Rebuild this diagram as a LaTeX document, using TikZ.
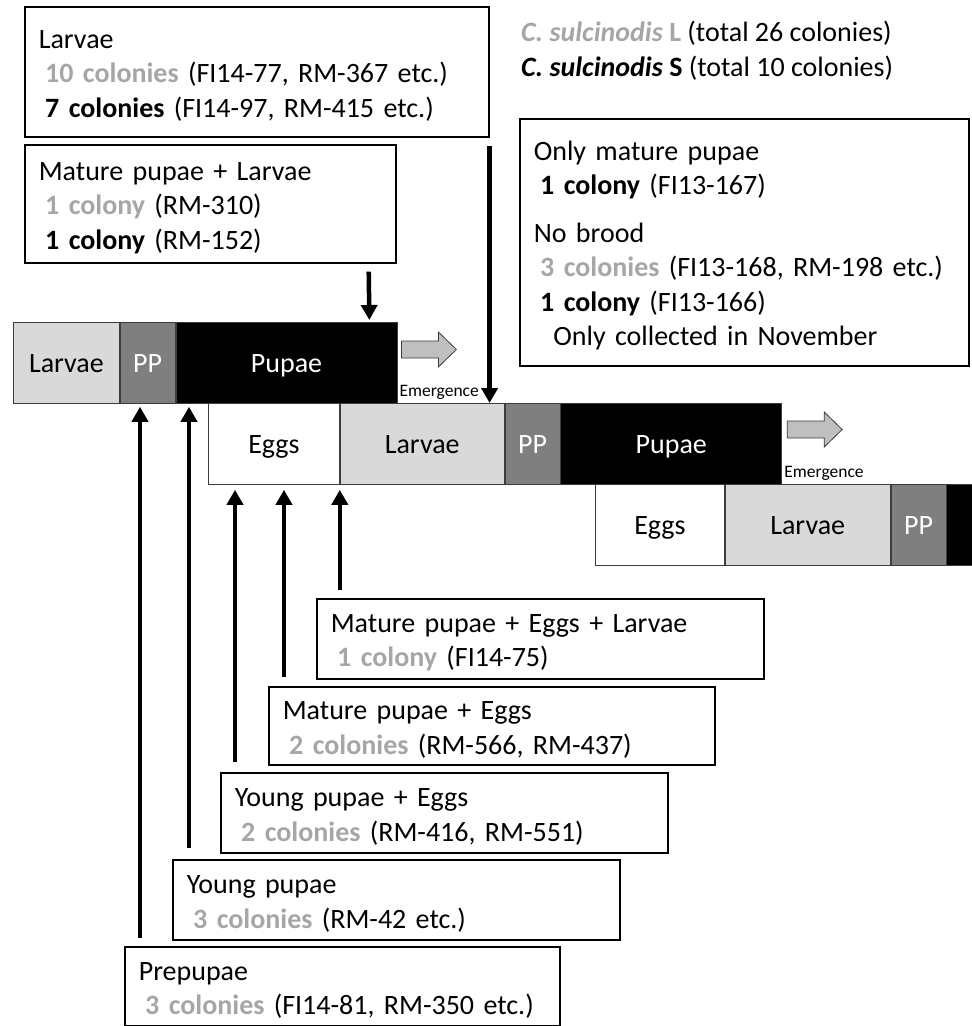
\documentclass[tikz,border=0pt]{standalone}
\usepackage{fontspec}
\setmainfont{Carlito}
\usepackage{tikz}
\usetikzlibrary{arrows.meta,positioning}
\definecolor{larv}{RGB}{217,217,217}
\definecolor{ppc}{RGB}{127,127,127}
\definecolor{gr}{RGB}{166,166,166}
\definecolor{emg}{RGB}{191,191,191}
\definecolor{bord}{RGB}{60,60,60}
\newcommand\fl{\rule{0pt}{26pt}}

\begin{document}
\begin{tikzpicture}[x=1pt,y=1pt,
	every node/.style={font=\fontsize{28}{34.5}\selectfont},
	box/.style={draw,line width=1.6pt,anchor=north west,align=left,inner xsep=14pt,inner ysep=0pt},
	bar/.style={draw=bord,line width=0.8pt,minimum height=81pt,inner sep=0pt,text height=21pt,text depth=2pt},
	arr/.style={line width=4.5pt,-{Triangle[width=16pt,length=15pt]}},
	emarr/.style={draw=bord,fill=emg,line width=0.8pt},
	emtxt/.style={font=\fontsize{17.5}{20}\selectfont,inner sep=1pt,anchor=south west}]
	\useasboundingbox (0,0) rectangle (972,-1026);
	% legend
	\node[anchor=west,inner sep=0pt,align=left] (leg) at (521,-50.5)
	{\textcolor{gr}{\textbf{\textit{C. sulcinodis}} \textbf{L}} (total 26 colonies)\\
		\textbf{\textit{C. sulcinodis}} \textbf{S} (total 10 colonies)};
	% boxes above
	\node[box,text width=436pt,minimum height=130pt] (lar) at (24,-6)
	{\fl Larvae\\
		\hspace*{.23em}\textcolor{gr}{\textbf{10 colonies}} (FI14-77, RM-367 etc.)\\
		\hspace*{.23em}\textbf{7 colonies} (FI14-97, RM-415 etc.)};
	\node[box,text width=343pt,minimum height=118pt] (lp) at (24,-144)
	{\fl Mature pupae + Larvae\\
		\hspace*{.23em}\textcolor{gr}{\textbf{1 colony}} (RM-310)\\
		\hspace*{.23em}\textbf{1 colony} (RM-152)};
	\node[box,text width=421pt,minimum height=247pt] (only) at (519,-118)
	{\fl Only mature pupae\\
		\hspace*{.23em}\textbf{1 colony} (FI13-167)\\[13pt]
		No brood\\
		\hspace*{.23em}\textcolor{gr}{\textbf{3 colonies}} (FI13-168, RM-198 etc.)\\
		\hspace*{.23em}\textbf{1 colony} (FI13-166)\\
		\hspace*{.7em}Only collected in November};
	% cycle bars
	\node[bar,fill=larv,anchor=north west,minimum width=106pt] (la1) at (13,-322) {Larvae};
	\node[bar,fill=ppc,text=white,minimum width=55pt,right=0pt of la1] (pp1) {PP};
	\node[bar,fill=black,text=white,minimum width=221pt,right=0pt of pp1] (pu1) {Pupae};
	\node[bar,fill=white,anchor=north west,minimum width=131pt] (eg2) at (208,-403) {Eggs};
	\node[bar,fill=larv,minimum width=164pt,right=0pt of eg2] (la2) {Larvae};
	\node[bar,fill=ppc,text=white,minimum width=55pt,right=0pt of la2] (pp2) {PP};
	\node[bar,fill=black,text=white,minimum width=221pt,right=0pt of pp2] (pu2) {Pupae};
	\node[bar,fill=white,anchor=north west,minimum width=129pt] (eg3) at (595,-484) {Eggs};
	\node[bar,fill=larv,minimum width=165pt,right=0pt of eg3] (la3) {Larvae};
	\node[bar,fill=ppc,text=white,minimum width=55pt,right=0pt of la3] (pp3) {PP};
	\node[bar,fill=black,minimum width=40pt,right=0pt of pp3] (pu3) {};
	% emergence
	\draw[emarr] ([shift={(4,-19)}]pu1.north east) -- ++(37,0) -- ++(0,9) -- ++(18,-17.5)
	-- ++(-18,-17.5) -- ++(0,9) -- ++(-37,0) -- cycle;
	\node[emtxt] (em1) at ([shift={(1,3)}]pu1.south east) {Emergence};
	\draw[emarr] ([shift={(5,-18)}]pu2.north east) -- ++(37,0) -- ++(0,9) -- ++(18,-17.5)
	-- ++(-18,-17.5) -- ++(0,9) -- ++(-37,0) -- cycle;
	\node[emtxt] (em2) at ([shift={(1,3)}]pu2.south east) {Emergence};
	% boxes below
	\node[box,text width=419pt,minimum height=80pt] (mpel) at (316,-598)
	{\fl Mature pupae + Eggs + Larvae\\
		\hspace*{.23em}\textcolor{gr}{\textbf{1 colony}} (FI14-75)};
	\node[box,text width=418pt,minimum height=78pt] (mpe) at (268,-686)
	{\fl Mature pupae + Eggs\\
		\hspace*{.23em}\textcolor{gr}{\textbf{2 colonies}} (RM-566, RM-437)};
	\node[box,text width=419pt,minimum height=80pt] (ype) at (220,-772)
	{\fl Young pupae + Eggs\\
		\hspace*{.23em}\textcolor{gr}{\textbf{2 colonies}} (RM-416, RM-551)};
	\node[box,text width=419pt,minimum height=80pt] (yp) at (172,-859)
	{\fl Young pupae\\
		\hspace*{.23em}\textcolor{gr}{\textbf{3 colonies}} (RM-42 etc.)};
	\node[box,text width=407pt,minimum height=79pt] (prep) at (124,-946)
	{\fl Prepupae\\
		\hspace*{.23em}\textcolor{gr}{\textbf{3 colonies}} (FI14-81, RM-350 etc.)};
	% arrows
	\draw[arr,shorten <=8pt,shorten >=2pt] ([xshift=-28pt]lp.south east) -- ([xshift=-28pt]pu1.north east);
	\draw[arr,shorten <=8pt] (lar.south east) -- (lar.south east |- la2.north);
	\draw[arr,shorten <=8pt,shorten >=3pt] ([xshift=16pt]prep.north west) -- ([xshift=16pt]prep.north west |- pp1.south);
	\draw[arr,shorten <=11pt,shorten >=3pt] ([xshift=17pt]yp.north west) -- ([xshift=17pt]yp.north west |- pu1.south);
	\draw[arr,shorten <=10pt,shorten >=5pt] ([xshift=15pt]ype.north west) -- ([xshift=15pt]ype.north west |- eg2.south);
	\draw[arr,shorten <=9pt,shorten >=5pt] ([xshift=16pt]mpe.north west) -- ([xshift=16pt]mpe.north west |- eg2.south);
	\draw[arr,shorten <=8pt,shorten >=5pt] (mpel.north -| eg2.south east) -- (eg2.south east);
\end{tikzpicture}
\end{document}
